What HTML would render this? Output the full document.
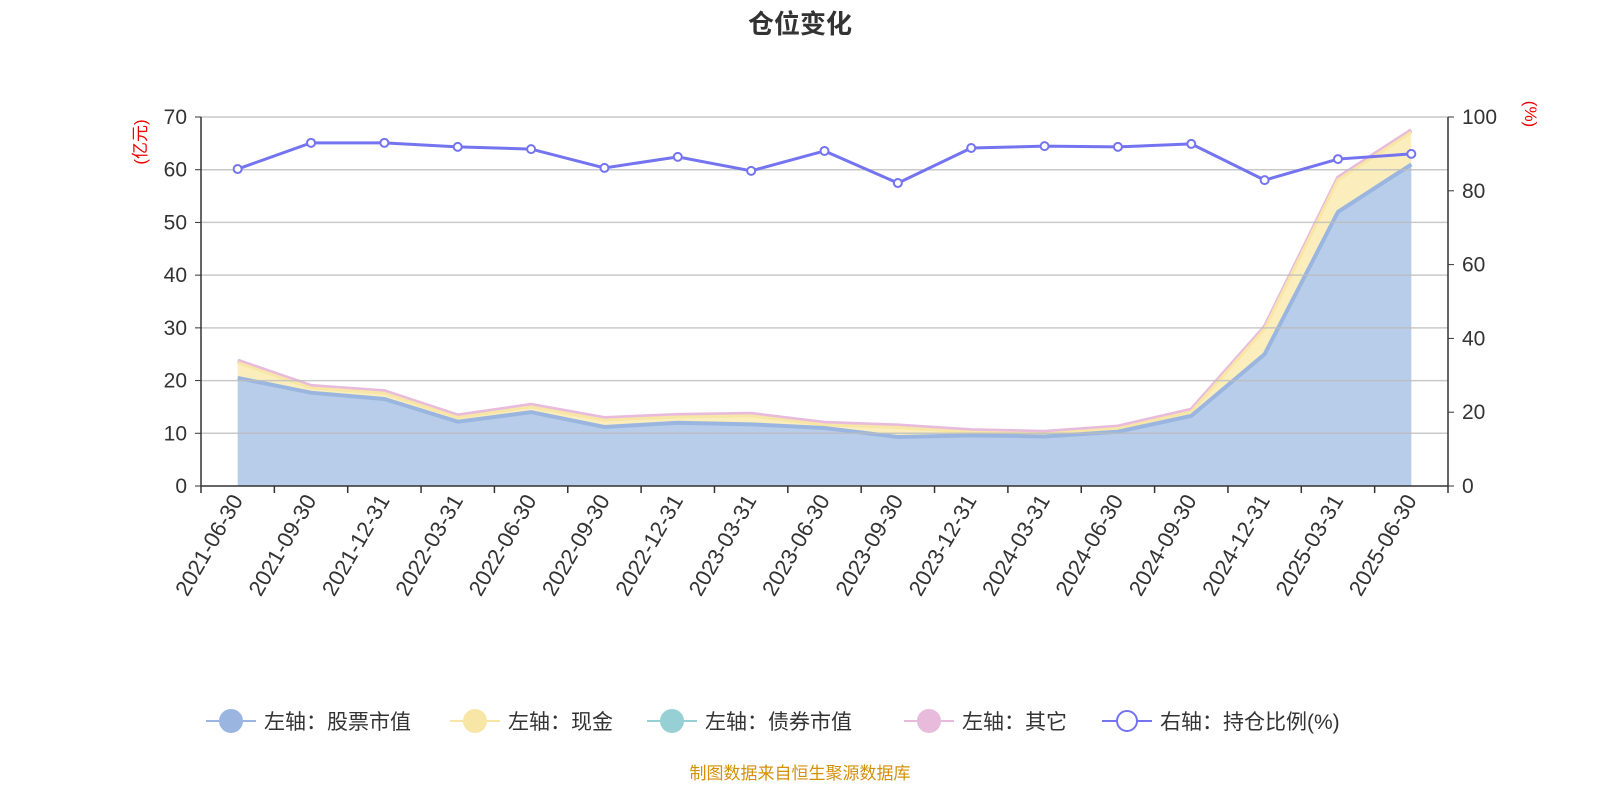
<!DOCTYPE html>
<html><head><meta charset="utf-8"><style>
body{margin:0;background:#fff;font-family:"Liberation Sans","Noto Sans CJK SC",sans-serif}
svg text{font-family:"Liberation Sans","Noto Sans CJK SC",sans-serif}
</style></head><body>
<svg id="c" width="1600" height="800" xmlns="http://www.w3.org/2000/svg">
<text x="800" y="33" text-anchor="middle" font-size="26" font-weight="bold" fill="#333">仓位变化</text>
<text transform="translate(146,142) rotate(-90)" text-anchor="middle" font-size="17" fill="#e00">(亿元)</text>
<text transform="translate(1525,114) rotate(90)" text-anchor="middle" font-size="17" fill="#e00">(%)</text>
<g id="plot"></g>
<text x="800" y="779" text-anchor="middle" font-size="17" fill="#d4900a">制图数据来自恒生聚源数据库</text>
</svg>
<script>
const categories=["2021-06-30","2021-09-30","2021-12-31","2022-03-31","2022-06-30","2022-09-30","2022-12-31","2023-03-31","2023-06-30","2023-09-30","2023-12-31","2024-03-31","2024-06-30","2024-09-30","2024-12-31","2025-03-31","2025-06-30"];
const stockValues=[20.5,17.7,16.5,12.2,14.0,11.2,12.0,11.7,11.0,9.3,9.6,9.4,10.3,13.3,25.0,52.0,61.0];
const cashValues=[2.9,0.9,1.1,0.8,1.0,1.3,1.1,1.6,0.6,1.8,0.6,0.5,0.6,0.8,4.8,6.1,6.1];
const bondValues=[0,0,0,0,0,0,0,0,0,0,0,0,0,0,0,0,0];
const otherValues=[0.4,0.4,0.4,0.4,0.4,0.4,0.4,0.4,0.4,0.4,0.4,0.4,0.4,0.4,0.4,0.4,0.4];
const ratioValues=[85.9,93.0,93.0,91.9,91.3,86.2,89.2,85.4,90.8,82.1,91.6,92.1,91.9,92.7,82.9,88.6,90.0];
const leftTicks=[0,10,20,30,40,50,60,70];
const rightTicks=[0,20,40,60,80,100];
const L=201,R=1448,T=117,B=486;
const step=(R-L)/categories.length;
const x=i=>L+step*(i+0.5);
const yL=v=>B-(v/70)*(B-T);
const yR=v=>B-(v/100)*(B-T);
const g=document.getElementById('plot');
const NS="http://www.w3.org/2000/svg";
function mk(t,a,p){const e=document.createElementNS(NS,t);for(const k in a)e.setAttribute(k,a[k]);(p||g).appendChild(e);return e;}
const s1=stockValues.slice();
const s2=s1.map((v,i)=>v+cashValues[i]);
const s3=s2.map((v,i)=>v+bondValues[i]);
const s4=s3.map((v,i)=>v+otherValues[i]);
function pts(arr){return arr.map((v,i)=>x(i)+","+yL(v));}
function area(top,bot,fill,stroke,name,w){
  const p=pts(top).concat(pts(bot).reverse());
  const a=mk('polygon',{points:p.join(' '),fill:fill});
  
  
  const l=mk('polyline',{points:pts(top).join(' '),fill:'none',stroke:stroke,'stroke-width':w});
  
  
}
const zeros=categories.map(()=>0);
area(s4,s3,'#f0cde5','#e8bbdc','other',4);
area(s3,s2,'#a9d9dc','#96d0d4','bond',2);
area(s2,s1,'#fbeebc','#f7e6a6','cash',3);
area(s1,zeros,'#b8cdea','#9ab6e0','stock',4);
leftTicks.forEach(v=>{
  if(v>0){const gl=mk('line',{x1:L,x2:R,y1:yL(v),y2:yL(v),stroke:'#bbb','stroke-width':1.5,'stroke-opacity':0.8});
  }
  const t=mk('text',{x:L-14,y:yL(v)+7,'text-anchor':'end','font-size':21,fill:'#333'});t.textContent=v;
  
  mk('line',{x1:L-6,x2:L,y1:yL(v),y2:yL(v),stroke:'#333'});
});
rightTicks.forEach(v=>{
  const t=mk('text',{x:R+14,y:yR(v)+7,'text-anchor':'start','font-size':21,fill:'#333'});t.textContent=v;
  
  mk('line',{x1:R,x2:R+6,y1:yR(v),y2:yR(v),stroke:'#333'});
});
mk('line',{x1:L,x2:L,y1:T,y2:B,stroke:'#333','stroke-width':1.5});
mk('line',{x1:R,x2:R,y1:T,y2:B,stroke:'#333','stroke-width':1.5});
mk('line',{x1:L,x2:R,y1:B,y2:B,stroke:'#333','stroke-width':1.5});
for(let i=0;i<=categories.length;i++){mk('line',{x1:L+step*i,x2:L+step*i,y1:B,y2:B+7,stroke:'#333','stroke-width':1.5});}
categories.forEach((c,i)=>{
  const t=mk('text',{transform:`translate(${x(i)+6},${B+14}) rotate(-60)`,'text-anchor':'end','font-size':22,fill:'#333'});
  t.textContent=c;
  
});
const rl=mk('polyline',{points:ratioValues.map((v,i)=>x(i)+","+yR(v)).join(' '),fill:'none',stroke:'#7474f0','stroke-width':3});

ratioValues.forEach((v,i)=>{
  const c=mk('circle',{cx:x(i),cy:yR(v),r:4,fill:'#fff',stroke:'#7474f0','stroke-width':2});
  
});
const leg=[["左轴：股票市值","#9ab6e0",false],["左轴：现金","#f7e6a6",false],["左轴：债券市值","#96d0d4",false],["左轴：其它","#e8bbdc",false],["右轴：持仓比例(%)","#7474f0",true]];
const lx=[206,450,647,904,1102];
leg.forEach((l,i)=>{
  const gg=mk('g',{});
  
  mk('line',{x1:lx[i],x2:lx[i]+50,y1:721,y2:721,stroke:l[1],'stroke-width':2},gg);
  mk('circle',{cx:lx[i]+25,cy:721,r:l[2]?10:11,fill:l[2]?'#fff':l[1],stroke:l[1],'stroke-width':2},gg);
  const t=mk('text',{x:lx[i]+58,y:729,'font-size':21,fill:'#333'},gg);t.textContent=l[0];
});
</script>
</body></html>
